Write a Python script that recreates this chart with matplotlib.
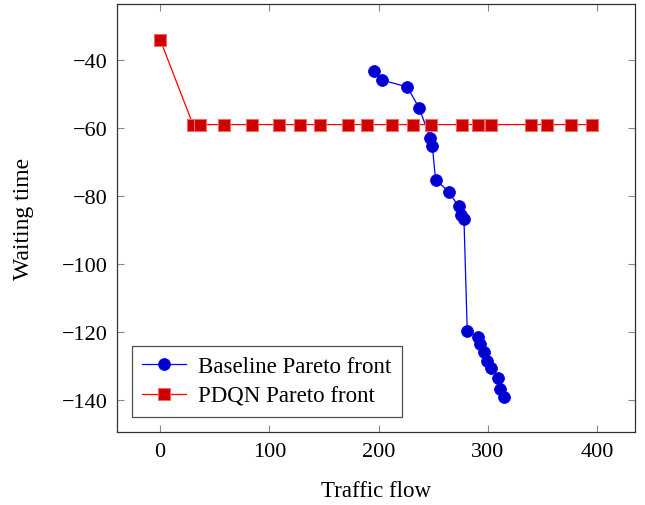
import matplotlib
matplotlib.use("Agg")
import matplotlib.pyplot as plt

plt.rcParams['font.family'] = ['Liberation Serif', 'DejaVu Serif']
plt.rcParams['mathtext.fontset'] = 'dejavuserif'

baseline_x = [196, 203, 226, 237, 247, 249, 252, 264, 273, 275, 278,
              281, 291, 293, 296, 299, 303, 309, 311, 315]
baseline_y = [-43.2, -45.9, -47.9, -54.1, -62.9, -65.2, -75.2, -78.7, -83.1, -85.5, -86.9,
              -119.8, -121.5, -123.6, -125.9, -128.6, -130.6, -133.5, -136.8, -139.2]

pdqn_x = [0, 30, 36, 58, 84, 109, 128, 146, 172, 189, 212, 231, 248,
          276, 291, 303, 339, 354, 376, 395]
pdqn_y = [-34, -59, -59, -59, -59, -59, -59, -59, -59, -59, -59, -59, -59,
          -59, -59, -59, -59, -59, -59, -59]

x_ticks = [0, 100, 200, 300, 400]
y_ticks = [-140, -120, -100, -80, -60, -40]

fig = plt.figure(figsize=(6.45, 5.06), dpi=100)
ax = fig.add_axes([117/645, 1 - 433/506, (635-117)/645, (433-5)/506])

ax.plot(baseline_x, baseline_y, color='#0000ff', lw=0.9, marker='o', ms=8.5,
        mfc='#0000cc', mec='#0000ff', mew=0.6, label='Baseline Pareto front', zorder=3)
ax.plot(pdqn_x, pdqn_y, color='#ff0000', lw=0.9, marker='s', ms=8,
        mfc='#cc0000', mec='#ff6666', mew=0.8, label='PDQN Pareto front', zorder=4)

ax.set_xlim(-39.5, 434.5)
ax.set_ylim(-149.5, -23.5)
ax.set_xticks(x_ticks)
ax.set_yticks(y_ticks)
ax.set_xticklabels([str(v) for v in x_ticks])
ax.set_yticklabels(['\u2212' + str(-v) for v in y_ticks])

ax.tick_params(direction='in', length=5, width=0.8, color='#888888',
               top=True, right=True, labelsize=16, pad=7)
for s in ax.spines.values():
    s.set_color('#333333')
    s.set_linewidth(0.9)

ax.set_xlabel('Traffic flow', fontsize=16.5, labelpad=14)
ax.set_ylabel('Waiting time', fontsize=17, labelpad=20)

leg = ax.legend(loc='lower left', bbox_to_anchor=(0.029, 0.035), fontsize=16.5,
                frameon=True, fancybox=False, edgecolor='#222222', borderpad=0.45,
                handlelength=1.9, handletextpad=0.55, labelspacing=0.38, borderaxespad=0)
leg.get_frame().set_linewidth(0.9)

fig.savefig('out.png', dpi=100)
